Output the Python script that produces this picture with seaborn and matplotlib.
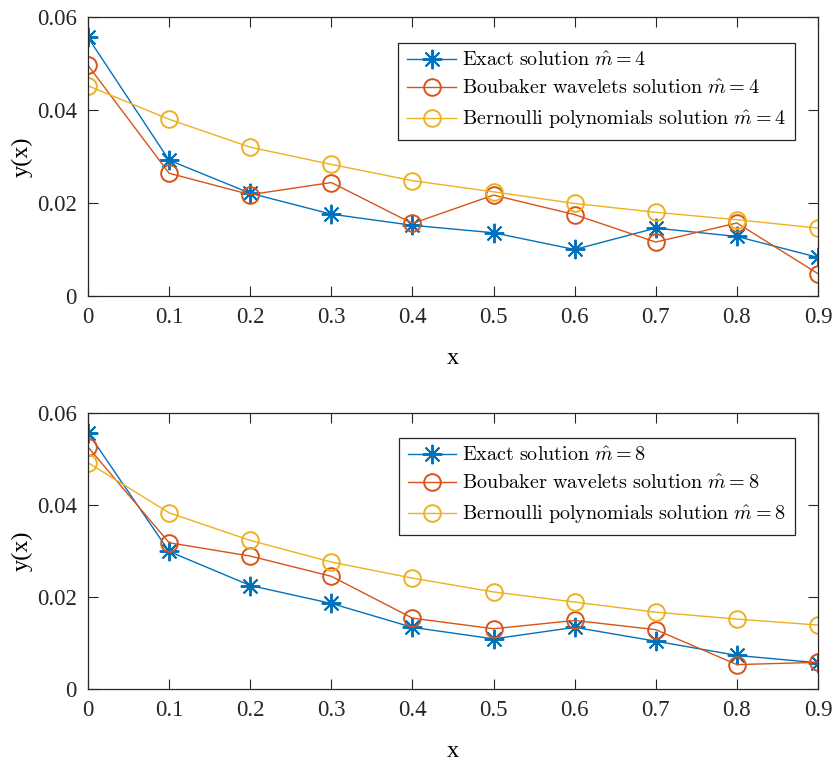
import matplotlib
matplotlib.use("Agg")
import matplotlib.pyplot as plt
import seaborn as sns

plt.rcParams["font.family"] = ["Liberation Serif", "DejaVu Serif"]
plt.rcParams["mathtext.fontset"] = "cm"

# data
x = [0, 0.1, 0.2, 0.3, 0.4, 0.5, 0.6, 0.7, 0.8, 0.9]

exact_m4 = [0.0556, 0.0292, 0.0221, 0.0176, 0.0152, 0.0136, 0.0100, 0.0146, 0.0128, 0.0083]
boubaker_m4 = [0.0496, 0.0264, 0.0218, 0.0244, 0.0156, 0.0217, 0.0175, 0.0116, 0.0157, 0.0048]
bernoulli_m4 = [0.0452, 0.0380, 0.0320, 0.0283, 0.0248, 0.0224, 0.0199, 0.0180, 0.0164, 0.0146]

exact_m8 = [0.0557, 0.0299, 0.0225, 0.0186, 0.0134, 0.0109, 0.0134, 0.0104, 0.0073, 0.0057]
boubaker_m8 = [0.0526, 0.0318, 0.0289, 0.0245, 0.0154, 0.0131, 0.0149, 0.0129, 0.0053, 0.0058]
bernoulli_m8 = [0.0492, 0.0383, 0.0323, 0.0276, 0.0241, 0.0211, 0.0189, 0.0167, 0.0152, 0.0139]

xticks = [0, 0.1, 0.2, 0.3, 0.4, 0.5, 0.6, 0.7, 0.8, 0.9]
xticklabels = ["0", "0.1", "0.2", "0.3", "0.4", "0.5", "0.6", "0.7", "0.8", "0.9"]
yticks = [0, 0.02, 0.04, 0.06]
yticklabels = ["0", "0.02", "0.04", "0.06"]

blue, red, yellow = "#0072BD", "#D95319", "#EDB120"

fig = plt.figure(figsize=(8.33, 7.66), dpi=100)
ax1 = fig.add_axes([88 / 833, 1 - 296 / 766, 730 / 833, 279 / 766])
ax2 = fig.add_axes([88 / 833, 1 - 689 / 766, 730 / 833, 276 / 766])

panels = [
    (ax1, exact_m4, boubaker_m4, bernoulli_m4, "4", 0.907),
    (ax2, exact_m8, boubaker_m8, bernoulli_m8, "8", 0.909),
]

for ax, ex, bo, be, m, ytop in panels:
    sns.lineplot(x=x, y=ex, ax=ax, color=blue, marker="o", markersize=14,
                 markeredgewidth=1.4, linewidth=1,
                 label=r"$\mathrm{Exact\ solution}\ \hat{m}=" + m + "$")
    # matlab style asterisk (plus and cross)
    ax.lines[-1].set_marker((8, 2, 0))
    ax.lines[-1].set_markeredgecolor(blue)
    sns.lineplot(x=x, y=bo, ax=ax, color=red, marker="o", markersize=12,
                 markerfacecolor="none", markeredgecolor=red, markeredgewidth=1.4,
                 linewidth=1,
                 label=r"$\mathrm{Boubaker\ wavelets\ solution}\ \hat{m}=" + m + "$")
    sns.lineplot(x=x, y=be, ax=ax, color=yellow, marker="o", markersize=12,
                 markerfacecolor="none", markeredgecolor=yellow, markeredgewidth=1.4,
                 linewidth=1,
                 label=r"$\mathrm{Bernoulli\ polynomials\ solution}\ \hat{m}=" + m + "$")

    ax.set_xlim(0, 0.9)
    ax.set_ylim(0, 0.06)
    ax.set_xticks(xticks)
    ax.set_xticklabels(xticklabels)
    ax.set_yticks(yticks)
    ax.set_yticklabels(yticklabels)
    ax.tick_params(direction="in", length=7, width=0.8, top=True, right=True,
                   labelsize=16.5, colors="#262626", pad=8)
    for s in ax.spines.values():
        s.set_color("#262626")
        s.set_linewidth(0.9)
    ax.set_xlabel("x", fontsize=17.5, labelpad=14)
    ax.set_ylabel("y(x)", fontsize=17.5, labelpad=3)

    leg = ax.legend(loc="upper right", bbox_to_anchor=(0.968, ytop), fontsize=14.5,
                    fancybox=False, edgecolor="#262626", framealpha=1,
                    handlelength=2.4, handletextpad=0.3, labelspacing=0.45,
                    borderpad=0.45, borderaxespad=0)
    leg.get_frame().set_linewidth(0.9)

fig.savefig("out.png", dpi=100)
